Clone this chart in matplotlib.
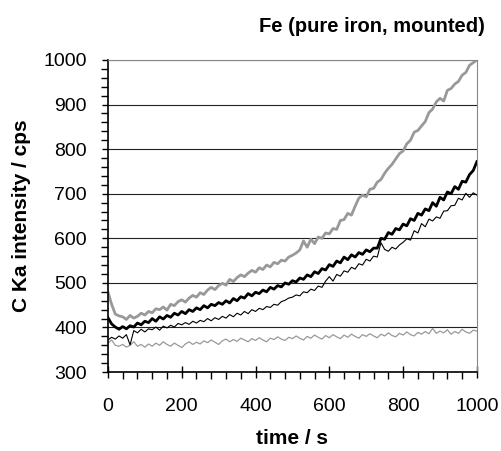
import matplotlib
matplotlib.use("Agg")
import matplotlib.pyplot as plt
from matplotlib.ticker import MultipleLocator

plt.rcParams['font.family'] = ['Liberation Sans', 'DejaVu Sans']

time_s = list(range(0, 1001, 10))

# thick grey
cps_thick_grey = [480, 452, 430, 426, 424, 418, 427, 421, 425, 432, 428, 436, 433, 442, 440, 446, 439, 452, 449, 458,
                  462, 457, 466, 472, 468, 478, 474, 484, 490, 485, 494, 499, 495, 508, 503, 512, 518, 514, 522, 528,
                  524, 534, 530, 540, 536, 546, 543, 551, 549, 558, 562, 567, 574, 594, 580, 598, 588, 603, 600, 612,
                  610, 622, 620, 640, 642, 656, 652, 672, 690, 697, 693, 710, 712, 726, 732, 746, 757, 766, 778, 790,
                  796, 812, 820, 838, 842, 852, 862, 882, 890, 906, 914, 908, 932, 936, 946, 952, 966, 972, 988, 994,
                  1000]

# thick black
cps_thick_black = [422, 408, 401, 396, 402, 397, 404, 401, 410, 406, 414, 411, 420, 414, 424, 419, 427, 423, 432, 428,
                   436, 431, 440, 436, 444, 440, 449, 444, 452, 449, 456, 452, 460, 455, 465, 460, 469, 466, 476, 471,
                   479, 476, 484, 480, 490, 486, 494, 491, 500, 497, 505, 502, 511, 508, 518, 514, 525, 521, 532, 529,
                   541, 537, 549, 545, 558, 552, 563, 558, 568, 564, 574, 570, 578, 578, 600, 598, 613, 609, 622, 619,
                   632, 628, 644, 640, 656, 652, 666, 662, 680, 672, 692, 686, 704, 700, 716, 710, 728, 726, 743, 752,
                   772]

# thin black
cps_thin_black = [372, 378, 374, 381, 376, 384, 361, 393, 388, 396, 390, 397, 395, 401, 394, 403, 399, 405, 401, 409,
                  406, 411, 407, 414, 410, 416, 413, 420, 415, 422, 418, 425, 421, 429, 424, 432, 428, 436, 431, 440,
                  436, 443, 440, 447, 445, 452, 450, 458, 461, 466, 468, 473, 471, 480, 478, 486, 483, 493, 490, 504,
                  514, 504, 519, 515, 527, 524, 535, 531, 543, 540, 553, 549, 560, 558, 590, 575, 571, 580, 576, 585,
                  591, 599, 596, 617, 612, 633, 626, 643, 639, 648, 645, 661, 662, 673, 674, 690, 686, 701, 692, 702,
                  697]

# thin grey
cps_thin_grey = [365, 372, 360, 358, 362, 356, 360, 368, 358, 362, 356, 363, 358, 365, 360, 368, 362, 358, 365, 360,
                 355, 363, 368, 362, 367, 363, 370, 366, 372, 367, 362, 370, 374, 368, 373, 369, 376, 372, 368, 375,
                 371, 377, 372, 368, 376, 373, 379, 374, 371, 378, 375, 381, 376, 372, 380, 376, 383, 378, 374, 382,
                 377, 384, 379, 375, 383, 378, 385, 380, 376, 384, 380, 386, 381, 377, 385, 381, 388, 382, 379, 387,
                 383, 390, 384, 381, 389, 385, 391, 386, 398, 387, 392, 388, 395, 385, 391, 387, 396, 390, 387, 394,
                 392]

fig = plt.figure(figsize=(5.02, 4.51), dpi=100)
ax = fig.add_axes([0.215, 0.175, 0.735, 0.692])

ax.plot(time_s, cps_thin_grey, color='#999999', lw=0.9)
ax.plot(time_s, cps_thin_black, color='black', lw=0.8)
ax.plot(time_s, cps_thick_grey, color='#999999', lw=2.0)
ax.plot(time_s, cps_thick_black, color='black', lw=2.0)

ax.set_xlim(0, 1000)
ax.set_ylim(300, 1000)
ax.xaxis.set_major_locator(MultipleLocator(200))
ax.xaxis.set_minor_locator(MultipleLocator(40))
ax.yaxis.set_major_locator(MultipleLocator(100))
ax.yaxis.set_minor_locator(MultipleLocator(20))
ax.grid(axis='y', which='major', color='#222222', lw=0.8)
ax.set_axisbelow(True)

ax.tick_params(which='major', direction='inout', length=9, width=1, labelsize=14, pad=14)
ax.tick_params(which='minor', direction='out', length=5, width=1)
ax.tick_params(axis='y', which='major', direction='out', length=4, pad=11)

for side in ['top', 'right']:
    ax.spines[side].set_color('#888888')
for side in ['left', 'bottom']:
    ax.spines[side].set_linewidth(1.2)

ax.set_xlabel('time / s', fontsize=15, fontweight='bold', labelpad=10)
ax.set_ylabel('C Ka intensity / cps', fontsize=15, fontweight='bold', labelpad=9)
fig.text(0.965, 0.942, 'Fe (pure iron, mounted)', ha='right', va='center', fontsize=14.5, fontweight='bold')

fig.savefig('out.png', dpi=100)
